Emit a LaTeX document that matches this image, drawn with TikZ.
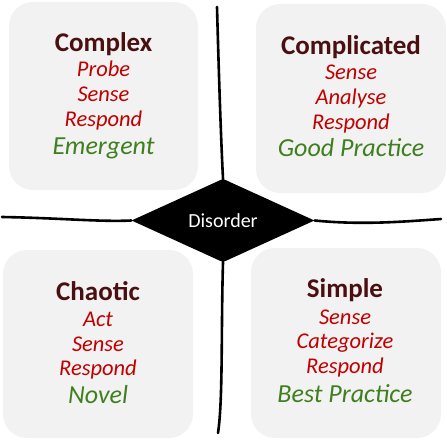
\documentclass[tikz,border=0pt]{standalone}
\usepackage{fontspec}
\setmainfont{Carlito}
\usetikzlibrary{shapes.geometric}
\definecolor{boxgray}{HTML}{F2F2F2}
\definecolor{titlec}{HTML}{4A1010}
\definecolor{actc}{HTML}{C00000}
\definecolor{pracc}{HTML}{3F7F1F}
\tikzset{
  panel/.style={rectangle, rounded corners=24pt, fill=boxgray, draw=none, inner sep=0pt},
  ttl/.style={anchor=base, inner sep=0pt, text=titlec, font=\fontsize{27}{30}\selectfont\bfseries},
  act/.style={anchor=base, inner sep=0pt, text=actc, font=\fontsize{22.5}{26}\selectfont\itshape},
  prac/.style={anchor=base, inner sep=0pt, text=pracc, font=\fontsize{26}{30}\selectfont\itshape},
  axis/.style={line width=2.6pt, line cap=round, black},
  dis/.style={diamond, fill=black, inner sep=0pt, minimum width=183pt, minimum height=76pt, text=white, font=\fontsize{20}{24}\selectfont}
}
\begin{document}
\begin{tikzpicture}[x=1pt,y=-1pt]
\useasboundingbox (0,0) rectangle (447,441);
% panels
\node[panel, minimum width=189pt, minimum height=188pt] (pcx) at (103.5,96) {};
\node[panel, minimum width=190pt, minimum height=189pt] (pcd) at (351,98.5) {};
\node[panel, minimum width=190pt, minimum height=188pt] (pch) at (98,344) {};
\node[panel, minimum width=190pt, minimum height=190pt] (psi) at (346,343) {};
% lines
\node[dis] (d) at (223,220.5) {Disorder};
\coordinate (lt) at (2,217);
\coordinate (rt) at (441,219);
\coordinate (tp) at (217,7);
\coordinate (bt) at (218,433);
\draw[axis] (lt) .. controls (60,218) and (100,222) .. (d.west);
\draw[axis] (d.east) .. controls (360,225) and (400,222) .. (rt);
\draw[axis] (tp) .. controls (219,80) and (221,140) .. (d.north);
\draw[axis] (d.south) .. controls (221,330) and (223,400) .. (bt);
% Complex
\node[ttl] (t1) at (103.5,52) {Complex};
\node[act] (a11) at (103.5,77) {Probe};
\node[act] (a12) at (103.5,102) {Sense};
\node[act] (a13) at (103.5,127) {Respond};
\node[prac] (p1) at (103.5,154) {Emergent};
% Complicated
\node[ttl] (t2) at (351,55) {Complicated};
\node[act] (a21) at (351,80) {Sense};
\node[act] (a22) at (351,105) {Analyse};
\node[act] (a23) at (351,130) {Respond};
\node[prac] (p2) at (351,157) {Good Practice};
% Chaotic
\node[ttl] (t3) at (98,300) {Chaotic};
\node[act] (a31) at (98,326) {Act};
\node[act] (a32) at (98,351) {Sense};
\node[act] (a33) at (98,375) {Respond};
\node[prac] (p3) at (98,403) {Novel};
% Simple
\node[ttl] (t4) at (345,297) {Simple};
\node[act] (a41) at (345,324) {Sense};
\node[act] (a42) at (345,348) {Categorize};
\node[act] (a43) at (345,373) {Respond};
\node[prac] (p4) at (345,402) {Best Practice};
\end{tikzpicture}
\end{document}
